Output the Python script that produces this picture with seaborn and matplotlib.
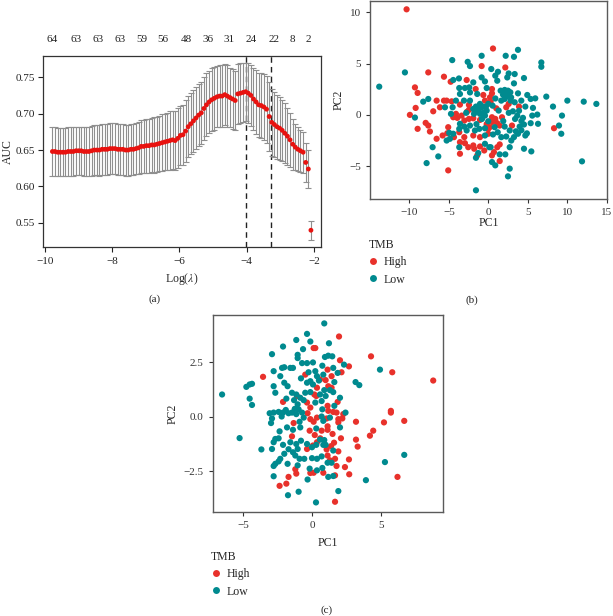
import numpy as np
import pandas as pd
import matplotlib
matplotlib.use("Agg")
import matplotlib.pyplot as plt
import seaborn as sns
from matplotlib.lines import Line2D

# ---------------- data: panel (a) ----------------
log_lambda = np.linspace(-9.77, -2.09, 100)
auc_mean = [
    0.648, 0.648, 0.647, 0.647, 0.647, 0.647, 0.648, 0.648, 0.648, 0.649,
    0.649, 0.649, 0.648, 0.648, 0.648, 0.649, 0.650, 0.650, 0.650, 0.651,
    0.651, 0.651, 0.652, 0.652, 0.652, 0.651, 0.651, 0.651, 0.650, 0.650,
    0.651, 0.651, 0.652, 0.653, 0.655, 0.655, 0.656, 0.656, 0.657, 0.657,
    0.658, 0.659, 0.660, 0.661, 0.662, 0.663,
    0.664, 0.663, 0.666, 0.670, 0.671, 0.676, 0.682, 0.686, 0.690, 0.694,
    0.698, 0.701, 0.707, 0.712, 0.716, 0.719, 0.721, 0.723, 0.724, 0.724,
    0.726, 0.724, 0.722, 0.720, 0.718, 0.727, 0.728, 0.729, 0.730, 0.728,
    0.725, 0.720, 0.716, 0.712, 0.711, 0.709, 0.706, 0.696, 0.688, 0.685,
    0.682, 0.680, 0.677, 0.673, 0.669, 0.664, 0.658, 0.654, 0.651, 0.649,
    0.647, 0.633, 0.624, 0.540,
]
auc_sd = [
    0.033, 0.033, 0.033, 0.033, 0.033, 0.033, 0.033, 0.033, 0.033, 0.033,
    0.033, 0.033, 0.034, 0.034, 0.034, 0.034, 0.034, 0.034, 0.035, 0.035,
    0.035, 0.035, 0.035, 0.035, 0.035, 0.035, 0.035, 0.035, 0.035, 0.035,
    0.035, 0.035, 0.035, 0.036, 0.036, 0.036, 0.037, 0.037, 0.037, 0.038,
    0.038, 0.038, 0.039, 0.039, 0.039, 0.040, 0.040, 0.040, 0.041, 0.041,
    0.041, 0.042, 0.042, 0.042, 0.043, 0.043, 0.043, 0.043, 0.043, 0.043,
    0.043, 0.043, 0.043, 0.042, 0.042, 0.042, 0.042, 0.042, 0.041, 0.041,
    0.041, 0.041, 0.041, 0.041, 0.040, 0.041, 0.042, 0.043, 0.044, 0.044,
    0.045, 0.045, 0.046, 0.047, 0.046, 0.045, 0.044, 0.043, 0.042, 0.041,
    0.039, 0.037, 0.035, 0.032, 0.030, 0.029, 0.028, 0.027, 0.026, 0.013,
]
top_pos = [-9.77, -9.07, -8.42, -7.76, -7.11, -6.48, -5.80, -5.16, -4.51, -3.86, -3.19, -2.64, -2.18]
top_labels = ["64", "63", "63", "63", "59", "56", "48", "36", "31", "24", "22", "8", "2"]
lambda_min = -4.03
lambda_1se = -3.28

# ---------------- data: panel (b) ----------------
b_high = [
    (-10.36, 10.29), (-7.61, 4.14), (-9.30, 2.68), (-8.96, 2.14), (-9.21, 0.68), (-9.94, 0.0),
    (-6.98, 0.35), (-8.96, -1.36), (-7.94, -0.78), (-7.61, -1.04), (-7.40, -1.62), (-6.55, 1.39),
    (-6.13, 0.74), (-5.62, 1.39), (-5.28, 1.39), (-4.64, 1.32), (-5.62, 3.72), (-4.77, 3.23),
    (-2.74, 3.40), (-1.60, 2.52), (-0.84, 4.76), (-0.63, 1.94), (0.22, 1.71), (-3.59, 1.0),
    (-4.10, 0.10), (-4.44, -0.23), (-3.93, -0.29), (-3.38, -0.07), (-2.45, 0.97), (-2.45, 0.49),
    (-0.42, 1.39), (-2.45, -0.39), (-3.04, -0.55), (-1.90, -0.33), (-1.05, -0.49), (-5.08, -1.20),
    (-3.68, -1.69), (-4.35, -2.17), (-5.20, -1.79), (-5.79, -2.01), (-6.55, -2.33), (-3.04, -2.17),
    (-1.90, -2.01), (-1.05, -2.17), (0.0, -1.84), (0.0, -1.36), (-3.59, -2.66), (-2.96, -2.76),
    (-2.54, -3.15), (-1.90, -2.98), (-1.78, -3.30), (-1.05, -3.08), (-0.51, -3.47), (-1.40, -3.95),
    (-3.59, -3.79), (-5.08, -5.41),
    (0.60, 6.47), (2.16, 4.62), (0.47, 2.52), (0.47, 2.10), (8.34, -1.30), (0.30, 1.29),
    (1.02, 0.64), (2.59, 1.07), (3.90, 0.81), (2.28, 0.74), (0.47, -0.23), (0.89, -0.39),
    (1.74, -0.23), (1.14, -0.81), (1.45, -1.04), (0.18, -1.20), (3.01, -1.04), (1.45, -2.88),
    (1.14, -3.15), (0.72, -3.63), (0.47, -3.95), (1.45, -4.50),
    (-2.70, 0.30), (-0.20, -0.90), (0.50, -0.70),
]
b_low = [
    (-13.83, 2.75), (-10.57, 4.14), (-8.25, 1.29), (-7.61, 1.55), (-9.30, -0.26), (-5.49, 0.74),
    (-4.57, 5.34), (-4.44, 3.40), (-3.72, 3.55), (-2.61, 5.17), (-2.32, 4.76), (-1.90, 3.17),
    (-3.68, 2.62), (-3.59, 2.04), (-2.96, 2.62), (-2.41, 2.68), (-2.32, 2.19), (-0.84, 5.76),
    (-0.84, 3.65), (-0.42, 3.26), (-0.20, 2.62), (-1.40, 2.04), (-4.10, 1.39), (-3.08, 1.39),
    (-2.32, 1.39), (-4.52, 0.74), (-4.73, 0.10), (-1.90, 0.58), (-1.56, 0.81), (-1.18, 0.58),
    (-1.05, 1.07), (-0.63, 0.81), (0.0, 1.07), (-1.81, 0.10), (-1.05, 0.10), (-0.20, 0.42),
    (-0.42, -0.07), (0.0, -0.62), (-4.95, -1.75), (-4.44, -1.84), (-3.68, -1.36), (-3.04, -1.14),
    (-2.32, -1.04), (-3.59, -0.87), (-2.74, -1.52), (-4.86, -2.33), (-5.28, -2.50), (-0.42, -2.01),
    (-1.14, -1.36), (-1.69, -1.52), (-0.42, -1.30), (-3.68, -3.15), (-0.42, -2.82), (0.13, -3.15),
    (-1.27, -3.72), (-1.56, -4.18), (-7.06, -3.15), (-6.34, -4.05), (-7.82, -4.70), (-1.56, -7.35),
    (2.21, 5.76), (3.26, 5.66), (3.77, 6.34), (0.38, 4.47), (1.23, 4.20), (0.89, 3.82),
    (1.14, 3.33), (2.59, 4.04), (3.35, 3.98), (2.41, 3.65), (4.53, 3.59), (3.26, 3.07),
    (6.73, 5.11), (6.73, 4.69), (1.57, 2.36), (2.08, 2.43), (2.50, 2.36), (1.87, 1.97),
    (2.59, 1.87), (3.77, 2.10), (4.95, 1.94), (5.38, 1.55), (5.96, 1.61), (7.36, 1.78),
    (10.03, 1.39), (12.11, 1.29), (13.71, 1.07), (8.21, 0.81), (9.35, -0.07), (8.97, -1.04),
    (9.26, -1.84), (11.89, -4.53), (1.65, 1.39), (2.08, 1.55), (2.84, 1.39), (3.35, 1.23),
    (4.19, 1.39), (4.70, 0.81), (5.67, 0.68), (1.32, 0.42), (3.13, 0.35), (3.68, -0.07),
    (4.40, -0.29), (5.58, -0.07), (6.22, 0.03), (6.31, -0.87), (5.38, -0.81), (0.81, -1.20),
    (2.08, -1.14), (2.72, -1.52), (3.98, -1.14), (4.53, -0.94), (0.60, -1.91), (1.65, -2.17),
    (2.28, -2.11), (3.26, -2.17), (3.77, -1.84), (4.70, -2.01), (2.92, -2.50), (0.30, -3.15),
    (1.45, -3.85), (2.16, -3.85), (2.72, -3.15), (4.53, -3.30), (5.46, -3.56), (0.47, -4.60),
    (0.89, -4.92), (2.72, -5.24), (2.50, -5.99), (0.55, 0.90), (1.90, -0.60), (-1.50, -0.90),
    (0.90, 1.60), (-2.80, 0.20), (1.20, -1.70), (-0.80, -0.40),
    (2.30, 2.10), (2.80, 2.20), (2.90, 1.70), (2.20, 1.75), (-0.90, 0.70), (-0.30, 0.80),
    (-1.40, 0.40), (-0.60, 0.20), (2.60, 0.20), (3.40, -0.40), (3.90, 0.40), (4.20, -0.60),
    (3.50, -1.60), (4.20, -1.50), (4.90, -1.80),
]

# ---------------- data: panel (c) ----------------
c_high = [
    (-3.55, 1.82), (0.12, 3.14), (0.24, 3.14), (-0.49, 1.92), (0.36, 1.32), (-1.09, 0.94),
    (0.17, 1.01), (0.31, 0.94), (-2.10, 0.67), (-0.36, 0.64), (-0.12, 0.41), (-0.32, 0.15),
    (-1.33, -0.30), (-0.12, -0.12), (0.12, -0.24), (0.36, -0.05), (-0.17, -0.65), (-1.45, -0.91),
    (0.07, -1.33), (0.36, -1.18), (-0.36, -1.49), (-1.21, -2.42), (-1.14, -2.62), (-0.12, -2.59),
    (0.12, -2.58), (-1.70, -2.77), (-1.86, -3.08), (-2.35, -3.18),
    (1.96, 3.67), (2.03, 2.58), (2.68, 2.30), (4.28, 2.76), (5.82, 2.03), (8.79, 1.65),
    (1.13, 2.15), (2.14, 2.03), (1.42, 1.85), (0.58, 1.70), (0.99, 1.67), (1.18, 1.39),
    (1.42, 1.32), (1.86, 0.67), (1.13, 0.49), (1.18, 0.26), (1.54, 0.21), (1.78, 0.18),
    (2.27, 0.11), (5.72, 0.26), (5.72, 0.18), (1.06, -0.09), (1.91, -0.12), (2.20, -0.09),
    (1.91, -0.27), (3.19, -0.24), (5.22, -0.27), (6.69, -0.20), (1.13, -0.45), (0.70, -0.65),
    (1.13, -0.61), (4.44, -0.65), (4.20, -0.88), (1.49, -0.80), (2.10, -1.00), (3.19, -1.06),
    (3.31, -1.38), (1.38, -1.36), (1.06, -1.51), (1.91, -1.60), (1.13, -1.79), (1.30, -2.01),
    (1.67, -1.94), (2.68, -1.97), (1.78, -2.27), (2.39, -2.32), (0.82, -2.58), (1.67, -2.70),
    (2.70, -2.65), (6.20, -2.77), (1.67, -3.91),
    (0.60, -1.00), (1.60, -1.20), (0.20, -0.85),
]
c_low = [
    (-6.52, 1.01), (-5.25, -0.99), (-4.76, 1.36), (-4.52, 1.47), (-4.35, 1.50), (-4.52, 0.82),
    (-4.35, 0.53), (-3.67, -1.51), (-2.90, 2.86), (-2.78, 2.08), (-2.10, 3.21), (-1.14, 3.51),
    (-0.36, 3.79), (-0.12, 3.44), (-0.65, 3.09), (-1.04, 2.83), (-1.04, 2.68), (-2.17, 2.23),
    (-2.01, 2.26), (-1.57, 2.23), (-1.38, 2.23), (-2.30, 1.85), (-2.01, 1.55), (-2.78, 1.39),
    (-2.66, 1.09), (-1.77, 1.39), (-1.45, 1.09), (-1.14, 1.01), (-0.72, 2.45), (-0.36, 2.45),
    (0.07, 2.48), (-0.25, 2.03), (-0.12, 1.62), (-0.36, 1.55), (0.24, 2.08), (0.36, 1.85),
    (0.07, 1.47), (-0.85, 0.86), (-0.49, 1.09), (-0.12, 1.12), (-1.86, 0.82), (-1.04, 0.56),
    (-0.97, 0.33), (0.24, 0.64), (-3.07, 0.15), (-2.78, 0.18), (-2.42, 0.21), (-2.10, 0.18),
    (-1.70, 0.15), (-1.45, 0.18), (-1.14, 0.11), (-0.72, 0.18), (-2.90, -0.09), (-2.97, -0.30),
    (-0.90, -0.24), (-1.81, -0.50), (-1.38, -0.61), (-0.85, -0.50), (0.31, -0.55), (-2.35, -0.68),
    (-2.66, -1.03), (-2.78, -1.18), (-2.42, -1.00), (-1.57, -1.18), (-1.14, -1.26), (-0.80, -1.11),
    (-0.36, -1.26), (-2.90, -1.49), (-2.01, -1.71), (-1.38, -1.64), (-1.04, -1.49), (-1.21, -1.79),
    (-0.90, -1.94), (0.0, -1.41), (0.31, -1.30), (-2.30, -1.94), (-2.42, -2.06), (-2.66, -2.17),
    (-2.78, -2.27), (-0.56, -1.94), (0.0, -1.91), (0.36, -1.94), (-1.77, -2.17), (-1.04, -2.24),
    (-0.17, -2.39), (0.36, -2.47), (-2.78, -2.74), (-0.97, -3.45), (-1.74, -3.61), (-0.32, -2.89),
    (0.29, -3.94),
    (0.89, 4.27), (1.23, 3.36), (0.94, 2.73), (1.18, 2.79), (1.47, 2.76), (2.32, 2.38),
    (4.93, 2.15), (3.16, 1.58), (3.43, 1.44), (0.75, 2.33), (1.54, 2.23), (1.86, 2.0),
    (0.82, 1.92), (1.62, 1.58), (0.89, 1.21), (1.30, 1.21), (1.54, 1.12), (0.58, 1.01),
    (0.99, 0.94), (2.03, 0.86), (0.70, 0.71), (1.62, 0.49), (0.75, 0.33), (2.43, 0.18),
    (0.70, 0.0), (1.30, -0.05), (0.82, -0.20), (2.03, -0.50), (0.58, -1.06), (0.89, -1.08),
    (0.82, -1.30), (0.99, -1.30), (1.54, -1.56), (0.70, -1.83), (1.13, -2.12), (1.42, -2.12),
    (0.75, -2.36), (1.18, -2.77), (1.54, -2.73), (5.29, -2.09), (6.69, -1.76), (3.91, -2.92),
    (1.91, -3.42),
    (-2.20, 0.00), (-1.90, 0.30), (-1.25, 0.35), (-0.60, -0.05), (-0.60, 0.75), (-1.30, 0.75),
    (-2.10, -1.30), (-1.70, -1.50), (-0.80, 1.75), (0.50, 1.65),
]

groups = ["High", "Low"]
palette = {"High": "#E8312B", "Low": "#008A8F"}


def make_df(high, low):
    rows = [(x, y, "High") for x, y in high] + [(x, y, "Low") for x, y in low]
    return pd.DataFrame(rows, columns=["PC1", "PC2", "TMB"])


df_b = make_df(b_high, b_low)
df_c = make_df(c_high, c_low)
df_a = pd.DataFrame({"loglambda": log_lambda, "auc": auc_mean, "sd": auc_sd})

# ---------------- style ----------------
sns.set_theme(style="white")
plt.rcParams["font.family"] = ["Liberation Serif", "DejaVu Serif"]
plt.rcParams["mathtext.fontset"] = "stix"
plt.rcParams["font.size"] = 8
plt.rcParams["axes.unicode_minus"] = True

W, H = 613, 616
fig = plt.figure(figsize=(W / 100, H / 100), dpi=100)


def box(l, t, r, b):
    return [l / W, 1 - b / H, (r - l) / W, (b - t) / H]


# ---------------- panel (a) ----------------
ax_a = fig.add_axes(box(43, 56, 320.7, 247))
ax_a.errorbar(df_a["loglambda"], df_a["auc"], yerr=df_a["sd"], fmt="none",
              ecolor="#8f8f8f", elinewidth=0.8, capsize=2.2, capthick=0.8, zorder=2)
sns.scatterplot(data=df_a, x="loglambda", y="auc", color="#E8120F", s=12,
                edgecolor="none", ax=ax_a, zorder=3, legend=False)
ax_a.axvline(lambda_min, color="#222222", ls=(0, (4, 3)), lw=1.0, zorder=1)
ax_a.axvline(lambda_1se, color="#222222", ls=(0, (4, 3)), lw=1.0, zorder=1)
ax_a.set_xlim(-10.05, -1.8)
ax_a.set_ylim(0.517, 0.779)
ax_a.set_xticks([-10, -8, -6, -4, -2])
ax_a.set_yticks([0.55, 0.60, 0.65, 0.70, 0.75])
ax_a.set_yticklabels(["0.55", "0.60", "0.65", "0.70", "0.75"])
ax_a.set_xlabel(r"Log($\lambda$)", fontsize=8.5, labelpad=4)
ax_a.set_ylabel("AUC", fontsize=8.5, labelpad=1)
ax_a.tick_params(axis="both", direction="out", length=3.5, width=0.8, colors="#222222",
                 labelsize=8, bottom=True, left=True)
ax_a.tick_params(axis="y", pad=2.5)
for s in ax_a.spines.values():
    s.set_color("#333333")
    s.set_linewidth(0.9)
ax_top = ax_a.twiny()
ax_top.set_xlim(ax_a.get_xlim())
ax_top.set_xticks(top_pos)
ax_top.set_xticklabels(top_labels)
ax_top.tick_params(axis="x", length=0, pad=9, labelsize=8, colors="#222222")
for s in ax_top.spines.values():
    s.set_visible(False)


# ---------------- panels (b) & (c) ----------------
def pca_panel(ax, df, xlim, ylim, xticks, yticks, yticklabels, leg_xy, xpad, ypad):
    sns.scatterplot(data=df, x="PC1", y="PC2", hue="TMB", hue_order=groups,
                    palette=palette, s=20, edgecolor="none", linewidth=0,
                    ax=ax, legend=False)
    ax.set_xlim(*xlim)
    ax.set_ylim(*ylim)
    ax.set_xticks(xticks)
    ax.set_yticks(yticks)
    ax.set_yticklabels(yticklabels)
    ax.set_xlabel("PC1", fontsize=8.5, labelpad=xpad)
    ax.set_ylabel("PC2", fontsize=8.5, labelpad=ypad)
    ax.tick_params(axis="both", direction="out", length=3, width=0.8, colors="#333333",
                   labelsize=8, bottom=True, left=True)
    for s in ax.spines.values():
        s.set_color("#5a5a5a")
        s.set_linewidth(1.0)
    handles = [Line2D([], [], marker="o", ls="none", markersize=5,
                      markerfacecolor=palette[g], markeredgecolor="none") for g in groups]
    leg = ax.legend(handles, groups, title="TMB", loc="upper left",
                    bbox_to_anchor=leg_xy, bbox_transform=fig.transFigure,
                    frameon=False, borderpad=0, borderaxespad=0, handlelength=0.8,
                    handletextpad=0.5, labelspacing=0.45, fontsize=8.5,
                    title_fontsize=8.5, alignment="left")
    return leg


ax_b = fig.add_axes(box(370, 0.5, 607, 199))
pca_panel(ax_b, df_b, (-15.0, 15.06), (-8.2, 11.15), [-10, -5, 0, 5, 10, 15],
          [-5, 0, 5, 10], ["\u22125", "0", "5", "10"], (368.5 / W, 1 - 239 / H), 0, 3)

ax_c = fig.add_axes(box(212.7, 314.7, 443, 512))
pca_panel(ax_c, df_c, (-7.2, 9.5), (-4.38, 4.67), [-5, 0, 5],
          [-2.5, 0.0, 2.5], ["\u22122.5", "0.0", "2.5"], (211 / W, 1 - 551 / H), 5, 4)

# ---------------- panel captions ----------------
fig.text(155 / W, 1 - 299 / H, "(a)", ha="center", va="center", fontsize=8)
fig.text(471.7 / W, 1 - 300 / H, "(b)", ha="center", va="center", fontsize=8)
fig.text(326.7 / W, 1 - 610 / H, "(c)", ha="center", va="center", fontsize=8)

fig.savefig("out.png", dpi=100)
